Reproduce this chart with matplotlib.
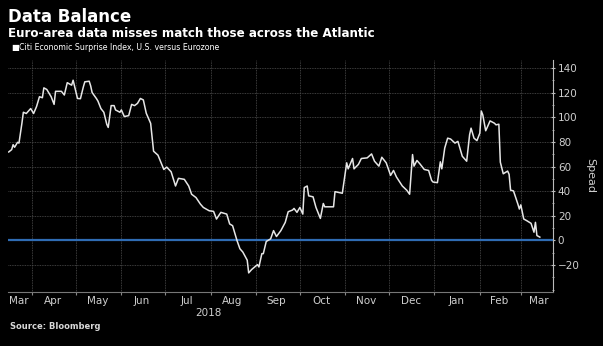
import matplotlib
matplotlib.use("Agg")
import matplotlib.pyplot as plt
import matplotlib.dates as mdates
import numpy as np

# Citi Economic Surprise Index spread, U.S. versus Eurozone
dates = [
    "2018-03-16", "2018-03-18", "2018-03-19", "2018-03-20", "2018-03-22", "2018-03-23",
    "2018-03-25", "2018-03-26", "2018-03-28", "2018-03-31", "2018-04-02", "2018-04-04",
    "2018-04-06", "2018-04-08", "2018-04-09", "2018-04-11", "2018-04-14", "2018-04-16",
    "2018-04-17", "2018-04-21", "2018-04-23", "2018-04-25", "2018-04-28", "2018-04-29",
    "2018-05-01", "2018-05-02", "2018-05-04", "2018-05-06", "2018-05-07", "2018-05-10",
    "2018-05-11", "2018-05-12", "2018-05-15", "2018-05-16", "2018-05-18", "2018-05-20",
    "2018-05-22", "2018-05-23", "2018-05-25", "2018-05-27", "2018-05-28", "2018-05-31",
    "2018-06-01", "2018-06-03", "2018-06-06", "2018-06-08", "2018-06-10", "2018-06-12",
    "2018-06-14", "2018-06-16", "2018-06-18", "2018-06-21", "2018-06-23", "2018-06-26",
    "2018-06-30", "2018-07-02", "2018-07-05", "2018-07-08", "2018-07-10", "2018-07-14",
    "2018-07-17", "2018-07-19", "2018-07-22", "2018-07-25", "2018-07-27", "2018-07-31",
    "2018-08-03", "2018-08-05", "2018-08-08", "2018-08-12", "2018-08-14", "2018-08-16",
    "2018-08-19", "2018-08-21", "2018-08-23", "2018-08-26", "2018-08-27", "2018-08-29",
    "2018-09-02", "2018-09-03", "2018-09-05", "2018-09-06", "2018-09-08", "2018-09-11",
    "2018-09-13", "2018-09-15", "2018-09-18", "2018-09-21", "2018-09-23", "2018-09-26",
    "2018-09-27", "2018-09-29", "2018-10-01", "2018-10-03", "2018-10-04", "2018-10-06",
    "2018-10-07", "2018-10-10", "2018-10-12", "2018-10-15", "2018-10-17", "2018-10-18",
    "2018-10-24", "2018-10-25", "2018-10-30", "2018-11-02", "2018-11-03", "2018-11-06",
    "2018-11-07", "2018-11-10", "2018-11-12", "2018-11-16", "2018-11-19", "2018-11-21",
    "2018-11-24", "2018-11-26", "2018-11-29", "2018-12-02", "2018-12-04", "2018-12-06",
    "2018-12-10", "2018-12-13", "2018-12-15", "2018-12-17", "2018-12-18", "2018-12-20",
    "2018-12-22", "2018-12-25", "2018-12-28", "2018-12-30", "2018-12-31", "2019-01-03",
    "2019-01-05", "2019-01-06", "2019-01-08", "2019-01-10", "2019-01-12", "2019-01-15",
    "2019-01-17", "2019-01-20", "2019-01-23", "2019-01-25", "2019-01-26", "2019-01-28",
    "2019-01-30", "2019-02-01", "2019-02-02", "2019-02-03", "2019-02-05", "2019-02-08",
    "2019-02-11", "2019-02-12", "2019-02-14", "2019-02-15", "2019-02-17", "2019-02-20",
    "2019-02-21", "2019-02-22", "2019-02-24", "2019-02-27", "2019-02-28", "2019-03-01",
    "2019-03-03", "2019-03-05", "2019-03-08", "2019-03-10", "2019-03-11", "2019-03-12",
    "2019-03-14",
]
spread = [
    71.8, 73.7, 77.7, 75.6, 79.6, 79.0,
    95.0, 104.0, 103.0, 107.0, 103.0, 108.6,
    116.6, 115.8, 123.8, 122.5, 116.6, 110.4,
    121.0, 121.0, 118.0, 128.0, 126.0, 130.0,
    120.0, 115.2, 115.0, 124.6, 128.7, 129.2,
    125.4, 120.0, 115.0, 113.0, 107.0, 104.0,
    94.3, 91.7, 109.4, 109.4, 105.9, 104.0,
    105.9, 100.5, 101.3, 110.4, 109.4, 111.2,
    115.2, 114.0, 103.2, 95.0, 72.4, 69.2,
    57.6, 59.5, 55.7, 44.2, 50.4, 49.6,
    44.2, 37.5, 34.8, 29.5, 26.8, 24.1,
    23.6, 17.4, 22.8, 21.4, 13.4, 12.0,
    0.0, -6.7, -9.4, -16.0, -26.3, -23.6,
    -19.6, -21.5, -10.7, -10.7, -0.8, 1.3,
    8.0, 3.2, 8.0, 14.7, 23.3, 24.7,
    26.0, 22.8, 26.8, 21.4, 42.9, 44.2,
    36.2, 35.4, 26.8, 17.9, 30.0, 27.3,
    27.3, 39.6, 38.3, 63.0, 58.1, 66.5,
    58.1, 61.7, 66.5, 67.0, 70.2, 64.3,
    60.3, 67.5, 63.0, 52.8, 56.8, 51.5,
    44.2, 40.8, 37.5, 69.7, 60.3, 64.9,
    62.2, 57.6, 56.8, 48.8, 47.4, 46.9,
    63.8, 58.1, 75.0, 83.0, 82.3, 79.0,
    80.4, 68.3, 64.3, 85.8, 91.1, 83.0,
    81.0, 87.1, 105.0, 101.9, 89.0, 97.0,
    95.1, 93.8, 94.3, 63.5, 54.1, 56.3,
    53.6, 40.8, 40.2, 29.5, 25.5, 28.9,
    17.4, 16.1, 13.9, 6.7, 14.7, 4.0,
    2.7,
]

month_labels = ["Mar", "Apr", "May", "Jun", "Jul", "Aug", "Sep",
                "Oct", "Nov", "Dec", "Jan", "Feb", "Mar"]
label_dates = ["2018-03-23", "2018-04-15", "2018-05-16", "2018-06-15", "2018-07-16",
               "2018-08-16", "2018-09-15", "2018-10-16", "2018-11-15", "2018-12-16",
               "2019-01-16", "2019-02-14", "2019-03-13"]
yticks = [-20, 0, 20, 40, 60, 80, 100, 120, 140]

x = np.array(dates, dtype="datetime64[D]")
y = np.array(spread)

fig = plt.figure(figsize=(6.03, 3.46), dpi=100, facecolor="black")
ax = fig.add_axes([8 / 603, 1 - 292 / 346, 545 / 603, 232 / 346])
ax.set_facecolor("black")

ax.plot(x, y, color="#e6e6e6", lw=1.1, zorder=3)
ax.axhline(0, color="#2f6cb3", lw=1.6, zorder=2)

ax.set_xlim(np.datetime64("2018-03-15T12"), np.datetime64("2019-03-23"))
ax.set_ylim(-41.8, 146.4)

# month boundaries: grid + ticks; labels centred in the month
ax.xaxis.set_major_locator(mdates.MonthLocator())
ax.xaxis.set_major_formatter(plt.NullFormatter())
ax.set_xticks(np.array(label_dates, dtype="datetime64[D]"), minor=True)
ax.set_xticklabels(month_labels, minor=True)
ax.tick_params(axis="x", which="major", length=2, color="#888888")
ax.tick_params(axis="x", which="minor", length=0, pad=3, labelsize=7.5,
               labelcolor="#cfcfcf")

ax.yaxis.tick_right()
ax.yaxis.set_label_position("right")
ax.set_yticks(yticks)
ax.set_yticks(np.arange(-40, 150, 10), minor=True)
ax.tick_params(axis="y", which="major", length=3, direction="inout", pad=2,
               labelsize=7.5, labelcolor="#cfcfcf", color="#bbbbbb")
ax.tick_params(axis="y", which="minor", length=2, direction="inout", color="#bbbbbb")
ax.set_ylabel("Spead", color="#cfcfcf", fontsize=8, rotation=270, labelpad=11)

ax.grid(True, which="major", color="#505050", lw=0.6, ls=(0, (1, 1)))
for s in ["left", "top"]:
    ax.spines[s].set_visible(False)
ax.spines["right"].set_color("#bbbbbb")
ax.spines["bottom"].set_color("#777777")
ax.spines["right"].set_linewidth(0.8)
ax.spines["bottom"].set_linewidth(0.8)

fig.text(8 / 603, 1 - 22 / 346, "Data Balance", color="white", fontsize=12,
         fontweight="bold")
fig.text(8 / 603, 1 - 37 / 346, "Euro-area data misses match those across the Atlantic",
         color="white", fontsize=8.6, fontweight="bold")
fig.text(11 / 603, 1 - 50 / 346, "\u25A0", color="white", fontsize=6)
fig.text(19 / 603, 1 - 50 / 346, "Citi Economic Surprise Index, U.S. versus Eurozone",
         color="white", fontsize=5.7)
fig.text(208 / 603, 1 - 316 / 346, "2018", color="#cfcfcf", fontsize=7.5, ha="center")
fig.text(10 / 603, 1 - 329 / 346, "Source: Bloomberg", color="#d8d8d8", fontsize=6,
         fontweight="bold")

fig.savefig("out.png", dpi=100, facecolor="black")
